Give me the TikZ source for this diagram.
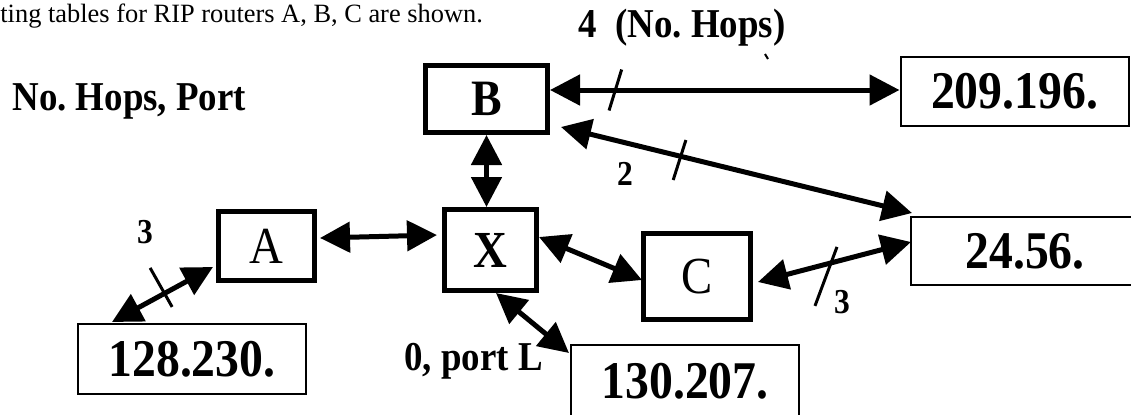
\documentclass[tikz,border=0pt]{standalone}
\usepackage{fontspec}
\setmainfont{Liberation Serif}
\newfontfamily\tallserif[FakeStretch=0.9]{Liberation Serif}
\usetikzlibrary{positioning,calc,arrows.meta}

\begin{document}
\begin{tikzpicture}[
        x=0.5pt, y=-0.5pt,
        router/.style={draw, rectangle, line width=2.5pt, inner sep=0pt, font=\tallserif\fontsize{26}{30}\selectfont},
        net/.style={draw, rectangle, line width=1pt, inner sep=0pt, minimum width=114pt, minimum height=34.5pt, font=\tallserif\bfseries\fontsize{26.5}{30}\selectfont},
        link/.style={{Triangle[length=15pt,width=15pt]}-{Triangle[length=15pt,width=15pt]}, line width=2.5pt},
        hop/.style={line width=1.5pt},
        lbl/.style={font=\tallserif\bfseries\fontsize{20.5}{24}\selectfont, inner sep=0pt},
        num/.style={font=\tallserif\bfseries\fontsize{17.5}{21}\selectfont, inner sep=0pt}
    ]
    \useasboundingbox (0,0) rectangle (1131,414);

    \node[anchor=base west, inner sep=0pt, font=\fontsize{13.2}{16}\selectfont] (intro) at (0,22) {ting tables for RIP routers A, B, C are shown.};
    \node[lbl, anchor=base] (hops) at (682,37) {4~~(No.\ Hops)};
    \node[lbl, anchor=base west] (hopsport) at (12,110) {No.\ Hops, Port};

    \node[router, minimum width=61pt, minimum height=33.5pt, font=\tallserif\bfseries\fontsize{25.5}{30}\selectfont] (B) at (486.5,99) {B};
    \node[router, minimum width=46pt, minimum height=40.5pt, font=\tallserif\bfseries\fontsize{26}{30}\selectfont] (X) at (490.5,250) {X};
    \node[router, minimum width=48pt, minimum height=34.5pt] (A) at (266.5,246) {A};
    \node[router, minimum width=53.5pt, minimum height=43pt] (C) at (697,276.5) {C};

    \node[net] (net209) at (1014.5,91.5) {209.196.};
    \node[net, minimum height=34pt] (net24) at (1025,251) {24.56.};
    \node[net, minimum height=35pt] (net128) at (192,359) {128.230.};
    \node[net, minimum height=36pt] (net130) at (685,381) {130.207.};

    \node[num, anchor=base] (hop2) at (625,185) {2};
    \node[num, anchor=base] (hop3a) at (145,243) {3};
    \node[num, anchor=base] (hop3c) at (842,313) {3};
    \node[lbl, anchor=base west] (portL) at (404,370) {0, port L};

    \draw[link] ([shift={(0,-9)}]B.east) -- coordinate[pos=0.187] (t1) ([shift={(0,-1.5)}]net209.west);
    \draw[link] ([shift={(11,-8)}]B.south east) -- coordinate[pos=0.341] (t2) ([shift={(2,-3)}]net24.north west);
    \draw[link] (B.south) -- (B.south |- X.north);
    \draw[link] ([shift={(3,-8)}]A.east) -- ([shift={(-5,-15)}]X.west);
    \draw[link] ([shift={(0,-13)}]X.east) -- ([shift={(1,3.5)}]C.west);
    \draw[link] ([shift={(5,5.5)}]C.east) -- coordinate[pos=0.477] (t3) ([shift={(1,-9)}]net24.west);
    \draw[link] ([shift={(-3,-16)}]A.south west) -- coordinate[pos=0.48] (t4) ([shift={(35,-1)}]net128.north west);
    \draw[link] ([shift={(5.5,0)}]X.south) -- ([shift={(-1,9)}]net130.north west);

    \draw[hop] ($(t1)+(6.3,-20.5)$) -- ($(t1)+(-6.3,20.5)$);
    \draw[hop] ($(t2)+(5.2,-16.3)$) -- ($(t2)+(-7.5,23.7)$);
    \draw[hop] ($(t3)+(6,-16)$) -- ($(t3)+(-16,43)$);
    \draw[hop] ($(t4)+(-14.4,-25.5)$) -- ($(t4)+(7.6,13.5)$);

    \draw[line width=1pt] (765,54) -- (768,59);
\end{tikzpicture}
\end{document}
